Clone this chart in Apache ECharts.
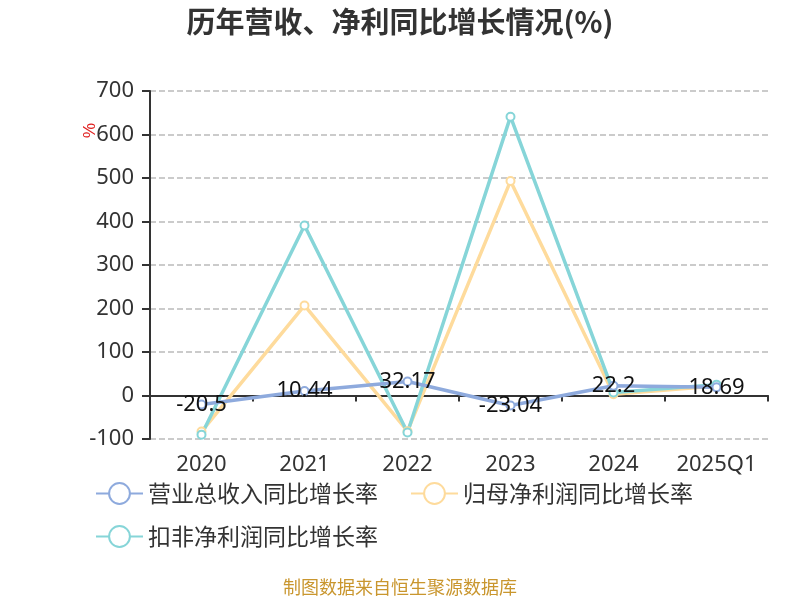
<!DOCTYPE html>
<html><head><meta charset="utf-8">
<script src="https://cdn.jsdelivr.net/npm/echarts@6/dist/echarts.min.js"></script>
<style>html,body{margin:0;padding:0;background:#fff}#c{width:800px;height:600px}</style>
</head><body><div id="c"></div>
<script>
const categories = ['2020','2021','2022','2023','2024','2025Q1'];
const revenueGrowth = [-20.5, 10.44, 32.17, -23.04, 22.2, 18.69];
const netProfitGrowth = [-83, 207, -82, 493, 3, 22];
const deductedProfitGrowth = [-90, 391, -85, 641, 7, 25];
const yTicks = {min: -100, max: 700, interval: 100};
const seriesNames = ['营业总收入同比增长率','归母净利润同比增长率','扣非净利润同比增长率'];
const colors = ['#8eaadd','#fedb9c','#86d5d8'];

const chart = echarts.init(document.getElementById('c'));
const mk = (name, data, color, label) => ({
  name, type: 'line', data,
  symbol: 'emptyCircle', symbolSize: 8,
  lineStyle: {width: 3.5, color},
  itemStyle: {color, borderWidth: 2},
  label: label ? {show: true, position: 'inside', fontSize: 22, color: '#111', fontFamily: 'Noto Sans'} : {show: false},
  z: label ? 3 : 2
});
const legendText = {fontSize: 23, color: '#333', fontFamily: 'Noto Sans CJK SC'};
chart.setOption({
  animation: false,
  color: colors,
  title: {text: '历年营收、净利同比增长情况(%)', left: 'center', top: 2,
    textStyle: {fontSize: 29, fontWeight: 'bold', color: '#333', fontFamily: 'Noto Sans CJK SC'}},
  grid: {left: 150, right: 32, top: 91, bottom: 161},
  legend: [
    {data: seriesNames.slice(0, 2), left: 90, top: 477, itemWidth: 47, itemHeight: 26, itemGap: 32, textStyle: legendText},
    {data: seriesNames.slice(2), left: 90, top: 520, itemWidth: 47, itemHeight: 26, textStyle: legendText}
  ],
  xAxis: {type: 'category', data: categories, boundaryGap: true,
    axisLine: {lineStyle: {color: '#333', width: 2}},
    axisTick: {show: true, lineStyle: {color: '#333', width: 2}, length: 6},
    axisLabel: {fontSize: 22, color: '#333', margin: 15, interval: 0, fontFamily: 'Noto Sans'}
  },
  yAxis: {type: 'value', min: yTicks.min, max: yTicks.max, interval: yTicks.interval,
    axisLine: {show: true, lineStyle: {color: '#333', width: 2}},
    axisTick: {show: true, length: 8, lineStyle: {color: '#333', width: 2}},
    axisLabel: {fontSize: 22, color: '#333', margin: 16, fontFamily: 'Noto Sans'},
    splitLine: {lineStyle: {type: 'dashed', color: '#bbb', width: 1.5}}
  },
  graphic: [
    {type: 'text', left: 79, top: 123, rotation: -Math.PI/2, style: {text: '%', fontSize: 17, fill: '#e02020'}},
    {type: 'text', left: 'center', top: 578, style: {text: '制图数据来自恒生聚源数据库', fontSize: 18, fill: '#c9962e', fontFamily: 'Noto Sans CJK SC'}}
  ],
  series: [
    mk(seriesNames[0], revenueGrowth, colors[0], true),
    mk(seriesNames[1], netProfitGrowth, colors[1], false),
    mk(seriesNames[2], deductedProfitGrowth, colors[2], false)
  ]
});
</script></body></html>
